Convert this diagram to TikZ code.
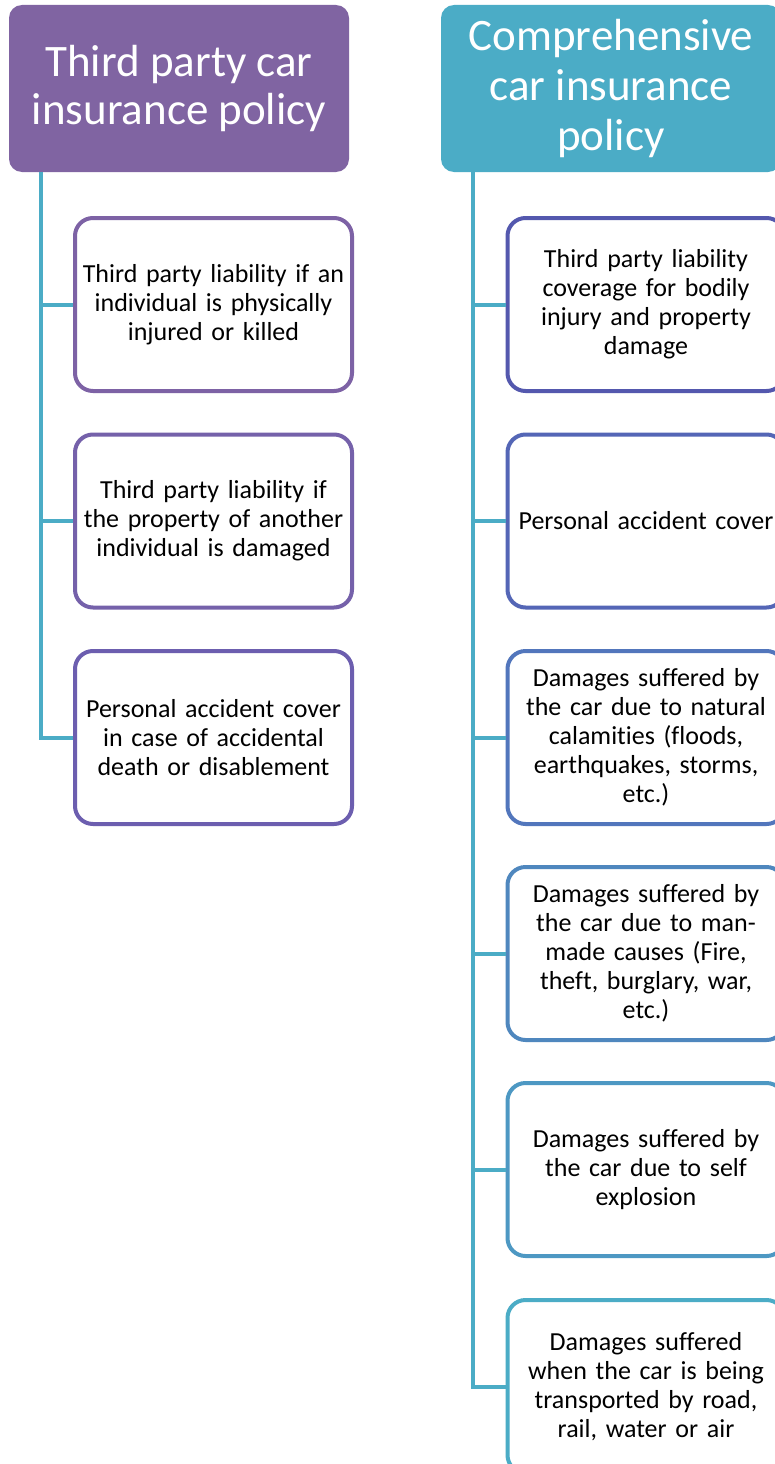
\documentclass[tikz,border=0pt]{standalone}
\usepackage{fontspec}
\setmainfont[RawFeature={-liga}]{Carlito}
\definecolor{hpurple}{HTML}{8064A2}
\definecolor{hteal}{HTML}{4BACC6}
\definecolor{lA}{HTML}{7D62A5}
\definecolor{lB}{HTML}{7561AA}
\definecolor{lC}{HTML}{6C5EAF}
\definecolor{rA}{HTML}{5458AE}
\definecolor{rB}{HTML}{5466B6}
\definecolor{rC}{HTML}{5276BC}
\definecolor{rD}{HTML}{4F87BE}
\definecolor{rE}{HTML}{4D98C3}
\definecolor{rF}{HTML}{4BACC6}
\begin{document}
\begin{tikzpicture}[x=1pt,y=-1pt,
  header/.style={rounded corners=13pt, text=white, align=center, inner sep=0pt, minimum width=340pt, minimum height=167pt},
  item/.style={draw, line width=4pt, rounded corners=18pt, fill=white, align=center, inner sep=0pt, minimum width=277pt, minimum height=173pt, text width=270pt, font=\fontsize{26}{29}\selectfont},
  conn/.style={draw=hteal, line width=4pt, line cap=butt}]
\clip (0,0) rectangle (775,1464);
\fill[white] (0,0) rectangle (775,1464);
% headers
\node[header, fill=hpurple, font=\fontsize{45}{48}\selectfont] (hl) at (179,88.5) {Third party car\\insurance policy};
\node[header, fill=hteal, font=\fontsize{45}{50}\selectfont] (hr) at (611,88.5) {Comprehensive\\car insurance\\policy};
% left items
\node[item, draw=lA] (l1) at (213.5,304.5) {Third party liability if an\\individual is physically\\injured or killed};
\node[item, draw=lB] (l2) at (213.5,521) {Third party liability if\\the property of another\\individual is damaged};
\node[item, draw=lC] (l3) at (213.5,737.5) {Personal accident cover\\in case of accidental\\death or disablement};
% right items
\node[item, draw=rA] (r1) at (646,304.5) {Third party liability\\coverage for bodily\\injury and property\\damage};
\node[item, draw=rB] (r2) at (646,521) {Personal accident cover};
\node[item, draw=rC] (r3) at (646,737.5) {Damages suffered by\\the car due to natural\\calamities (floods,\\earthquakes, storms,\\etc.)};
\node[item, draw=rD] (r4) at (646,953.5) {Damages suffered by\\the car due to man-\\made causes (Fire,\\theft, burglary, war,\\etc.)};
\node[item, draw=rE] (r5) at (646,1169.5) {Damages suffered by\\the car due to self\\explosion};
\node[item, draw=rF] (r6) at (646,1386.5) {Damages suffered\\when the car is being\\transported by road,\\rail, water or air};
% connectors
\coordinate (lx) at (41,0);
\coordinate (rx) at (473,0);
\coordinate (lt) at (hl.south -| lx);
\coordinate (rt) at (hr.south -| rx);
\draw[conn] (lt) -- (lt |- l1.west) -- (l1.west);
\draw[conn] (lt |- l1.west) -- (lt |- l2.west) -- (l2.west);
\draw[conn] (lt |- l2.west) -- (lt |- l3.west) -- (l3.west);
\draw[conn] (rt) -- (rt |- r1.west) -- (r1.west);
\draw[conn] (rt |- r1.west) -- (rt |- r2.west) -- (r2.west);
\draw[conn] (rt |- r2.west) -- (rt |- r3.west) -- (r3.west);
\draw[conn] (rt |- r3.west) -- (rt |- r4.west) -- (r4.west);
\draw[conn] (rt |- r4.west) -- (rt |- r5.west) -- (r5.west);
\draw[conn] (rt |- r5.west) -- (rt |- r6.west) -- (r6.west);
\end{tikzpicture}
\end{document}
